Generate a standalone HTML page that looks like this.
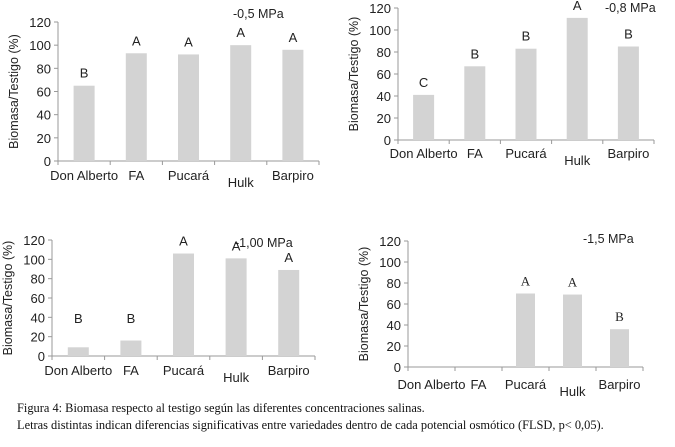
<!DOCTYPE html>
<html><head><meta charset="utf-8"><style>
body{margin:0;background:#fff;width:675px;height:442px;overflow:hidden}
svg{font-family:"Liberation Sans",sans-serif}
.cap{position:absolute;left:17px;font-family:"Liberation Serif",serif;font-size:12.4px;color:#111;white-space:nowrap}
</style></head><body>
<svg id="s" width="675" height="442"></svg>
<div class="cap" style="top:401px">Figura 4: Biomasa respecto al testigo según las diferentes concentraciones salinas.</div>
<div class="cap" style="top:418px">Letras distintas indican diferencias significativas entre variedades dentro de cada potencial osmótico (FLSD, p&lt; 0,05).</div>
<script>
const categories=["Don Alberto","FA","Pucará","Hulk","Barpiro"];
const yTicks=[0,20,40,60,80,100,120];
const values05=[65,93,92,100,96];
const letters05=["B","A","A","A","A"];
const values08=[41,67,83,111,85];
const letters08=["C","B","B","A","B"];
const values100=[9,16,106,101,89];
const letters100=["B","B","A","A","A"];
const values15=[0,0,70,69,36];
const letters15=["","","A","A","B"];
const titles=["-0,5 MPa","-0,8 MPa","-1,00 MPa","-1,5 MPa"];

const NS="http://www.w3.org/2000/svg";
const svg=document.getElementById('s');
function mk(tag,attrs,parent,txt){const e=document.createElementNS(NS,tag);for(const k in attrs)e.setAttribute(k,attrs[k]);if(txt!==undefined)e.textContent=txt;parent.appendChild(e);return e;}

const panels=[
 {vals:values05,lets:letters05,x0:58,x1:319,y0:161,y120:22,title:titles[0],tx:233,ty:18,bw:21,lab:180,minL:0,serif:false},
 {vals:values08,lets:letters08,x0:398,x1:654,y0:140,y120:8,title:titles[1],tx:605,ty:12,bw:21,lab:158,minL:0,serif:false},
 {vals:values100,lets:letters100,x0:52,x1:315,y0:356,y120:240,title:titles[2],tx:235,ty:247,bw:21,lab:375,minL:26,serif:false},
 {vals:values15,lets:letters15,x0:408,x1:643,y0:367,y120:241,title:titles[3],tx:583,ty:243,bw:19,lab:389,minL:0,serif:true}
];
panels.forEach((p,pi)=>{
 const g=mk('g',{},svg);
 
 
 const ys=v=>p.y0-(v/120)*(p.y0-p.y120);
 const cw=(p.x1-p.x0)/categories.length;
 const xc=i=>p.x0+cw*(i+0.5);
 const ax=mk('line',{x1:p.x0,y1:p.y120,x2:p.x0,y2:p.y0,stroke:'#999','stroke-width':1},g);
 
 const bx=mk('line',{x1:p.x0,y1:p.y0,x2:p.x1,y2:p.y0,stroke:'#999','stroke-width':1},g);
 
 for(let i=0;i<=categories.length;i++){mk('line',{x1:p.x0+cw*i,y1:p.y0,x2:p.x0+cw*i,y2:p.y0+4,stroke:'#999'},g);}
 yTicks.forEach(t=>{
  mk('line',{x1:p.x0-4,y1:ys(t),x2:p.x0,y2:ys(t),stroke:'#999'},g);
  const tl=mk('text',{x:p.x0-7,y:ys(t)+5,'text-anchor':'end','font-size':13,fill:'#222'},g,String(t));
  
 });
 const yt=mk('text',{transform:`translate(${p.x0-40},${(p.y0+p.y120)/2}) rotate(-90)`,'text-anchor':'middle','font-size':12.5,fill:'#222'},g,'Biomasa/Testigo (%)');
 
 p.vals.forEach((v,i)=>{
  const b=mk('rect',{x:xc(i)-p.bw/2,y:ys(v),width:p.bw,height:p.y0-ys(v),fill:'#d3d3d3'},g);
  
  
  if(p.lets[i]){
   const l=mk('text',{x:xc(i),y:ys(Math.max(v,p.minL))-8,'text-anchor':'middle','font-size':13,fill:'#222','font-family':p.serif?'Liberation Serif, serif':'Liberation Sans, sans-serif'},g,p.lets[i]);
   
  }
  const cl=mk('text',{x:xc(i),y:p.lab+(i===3?7:0),'text-anchor':'middle','font-size':13,fill:'#222'},g,categories[i]);
  
 });
 const tt=mk('text',{x:p.tx,y:p.ty,'font-size':12.5,fill:'#222'},g,p.title);
 
});
</script>
</body></html>
